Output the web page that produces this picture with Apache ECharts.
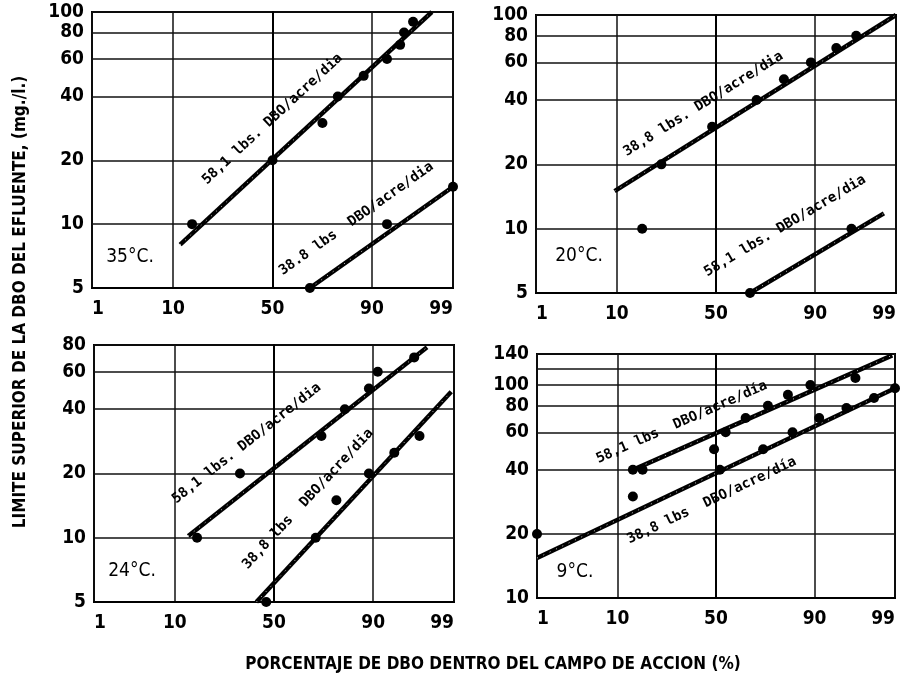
<!DOCTYPE html>
<html>
<head>
<meta charset="utf-8">
<script src="https://cdn.jsdelivr.net/npm/echarts@6/dist/echarts.min.js"></script>
<style>html,body{margin:0;padding:0;background:#fff}#c{width:908px;height:678px}</style>
</head>
<body>
<div id="c"></div>
<script>
// ---------- DATA ----------
const xTickLabels = [1, 10, 50, 90, 99];
const xGridValues = [1, 10, 50, 90, 99];

const yTicks35 = [5, 10, 20, 40, 60, 80, 100];
const yTicks20 = [5, 10, 20, 40, 60, 80, 100];
const yTicks24 = [5, 10, 20, 40, 60, 80];
const yTicks9 = [10, 20, 40, 60, 80, 100, 140];
const yGrid9 = [10, 20, 40, 60, 80, 100, 120, 140];

// 35 °C
const p35_581_points = [[15, 10], [50, 20], [74, 30], [80, 40], [88, 50], [93, 60], [95, 70], [95.5, 80], [96.5, 90]];
const p35_581_line = [[11.7, 8], [98, 100]];
const p35_388_points = [[68.5, 5], [93, 10], [99, 15]];
const p35_388_line = [[68.5, 5], [99, 15]];

// 20 °C
const p20_388_points = [[17, 10], [24, 20], [48, 30], [70, 40], [81, 50], [89, 60], [94, 70], [96.5, 80]];
const p20_388_line = [[9.5, 15], [99, 100]];
const p20_581_points = [[67, 5], [96, 10]];
const p20_581_line = [[67, 5], [98.5, 11.8]];

// 24 °C
const p24_581_points = [[16, 10], [33, 20], [73, 30], [82, 40], [89, 50], [91, 60], [96.5, 70]];
const p24_581_line = [[13.4, 10.2], [97.6, 78]];
const p24_388_points = [[46, 5], [70.5, 10], [79, 15], [89, 20], [94, 25], [97, 30]];
const p24_388_line = [[41, 5], [98.9, 48.3]];

// 9 °C
const p9_581_points = [[14, 40], [17, 40], [49, 50], [55, 60], [65, 70], [75, 80], [82.5, 90], [89, 100], [96.5, 108]];
const p9_581_line = [[14, 40], [98.9, 138]];
const p9_388_points = [[1, 20], [14, 30], [52, 40], [73, 50], [84, 60], [91, 70], [95.5, 78], [98, 87], [99, 96.6]];
const p9_388_line = [[1, 15.4], [99, 96.6]];

const panelTitles = ['35°C.', '20°C.', '24°C.', '9°C.'];
const yTitle = 'LIMITE SUPERIOR DE LA DBO DEL EFLUENTE, (mg./l.)';
const xTitle = 'PORCENTAJE DE DBO DENTRO DEL CAMPO DE ACCION (%)';

// ---------- LAYOUT ----------
const grids = [
  {left: 92, top: 12, width: 361, height: 276},
  {left: 536, top: 15, width: 360, height: 278},
  {left: 94, top: 345, width: 360, height: 257},
  {left: 537, top: 354, width: 358, height: 244}
];
const panelTitlePos = [[130, 257], [579, 256], [132, 571], [575, 572]];
// line labels: [panel, line, anchor(pct,val), text]
const lineLabels = [
  [0, p35_581_line, [50, 31.3], '58,1 lbs. DBO/acre/dia'],
  [0, p35_388_line, [86, 10.6], '38.8 lbs  DBO/acre/dia'],
  [1, p20_388_line, [43.5, 38.3], '38,8 lbs. DBO/acre/dia'],
  [1, p20_581_line, [81.4, 10.3], '58,1 lbs. DBO/acre/dia'],
  [2, p24_581_line, [36.2, 27.7], '58,1 lbs. DBO/acre/dia'],
  [2, p24_388_line, [67, 15.2], '38,8 lbs  DBO/acre/dia'],
  [3, p9_581_line, [32.8, 66.9], '58,1 lbs  DBO/acre/día'],
  [3, p9_388_line, [47.8, 28.7], '38,8 lbs  DBO/acre/día']
];

// ---------- SCALES ----------
function probit(p) {
  const a=[-3.969683028665376e+01,2.209460984245205e+02,-2.759285104469687e+02,1.383577518672690e+02,-3.066479806614716e+01,2.506628277459239e+00];
  const b=[-5.447609879822406e+01,1.615858368580409e+02,-1.556989798598866e+02,6.680131188771972e+01,-1.328068155288572e+01];
  const c=[-7.784894002430293e-03,-3.223964580411365e-01,-2.400758277161838e+00,-2.549732539343734e+00,4.374664141464968e+00,2.938163982698783e+00];
  const d=[7.784695709041462e-03,3.224671290700398e-01,2.445134137142996e+00,3.754408661907416e+00];
  const pl = 0.02425;
  let q, r;
  if (p < pl) {
    q = Math.sqrt(-2 * Math.log(p));
    return (((((c[0]*q+c[1])*q+c[2])*q+c[3])*q+c[4])*q+c[5])/((((d[0]*q+d[1])*q+d[2])*q+d[3])*q+1);
  }
  if (p > 1 - pl) return -probit(1 - p);
  q = p - 0.5; r = q * q;
  return (((((a[0]*r+a[1])*r+a[2])*r+a[3])*r+a[4])*r+a[5])*q/(((((b[0]*r+b[1])*r+b[2])*r+b[3])*r+b[4])*r+1);
}
const X = pct => probit(pct / 100);
const Y = v => Math.log10(v);
const pt = d => [X(d[0]), Y(d[1])];

const FONT = "'Liberation Sans Narrow','DejaVu Sans Condensed','Roboto Condensed','Liberation Sans',sans-serif";
const LFONT = "'DejaVu Sans Mono','Liberation Mono',monospace";

function xAxisFor(i) {
  const vals = xGridValues.map(X);
  return {
    type: 'value', gridIndex: i, min: X(1), max: X(99),
    axisLine: {show: true, lineStyle: {color: '#000', width: 2}},
    axisTick: {show: false, customValues: vals},
    splitLine: {show: true, lineStyle: {color: '#111', width: 1.5}},
    axisLabel: {
      customValues: xTickLabels.map(X), margin: 12,
      color: '#000', fontFamily: FONT, fontWeight: 'bold', fontSize: 19,
      alignMinLabel: 'left', alignMaxLabel: 'right',
      formatter: v => {
        let best = xTickLabels[0], bd = 1e9;
        xTickLabels.forEach(t => { const dd = Math.abs(X(t) - v); if (dd < bd) { bd = dd; best = t; } });
        return String(best);
      }
    }
  };
}
function yAxisFor(i, labels, gridVals) {
  return {
    type: 'value', gridIndex: i, min: Y(gridVals[0]), max: Y(gridVals[gridVals.length - 1]),
    axisLine: {show: true, lineStyle: {color: '#000', width: 2}},
    axisTick: {show: false, customValues: gridVals.map(Y)},
    splitLine: {show: true, lineStyle: {color: '#111', width: 1.5}},
    axisLabel: {
      customValues: labels.map(Y), margin: 8,
      color: '#000', fontFamily: FONT, fontWeight: 'bold', fontSize: 19,
      formatter: v => String(Math.round(Math.pow(10, v)))
    }
  };
}

const series = [];
function addLine(i, line) {
  series.push({type: 'line', xAxisIndex: i, yAxisIndex: i, data: line.map(pt), symbol: 'none',
    lineStyle: {color: '#000', width: 4.5}, z: 3, silent: true, animation: false});
  series.push({type: 'line', xAxisIndex: i, yAxisIndex: i, data: line.map(pt), symbol: 'none',
    lineStyle: {color: '#fff', width: 1, type: [1, 6], opacity: 0.8}, z: 4, silent: true, animation: false});
}
function addPoints(i, pts) {
  series.push({type: 'scatter', xAxisIndex: i, yAxisIndex: i, data: pts.map(pt), symbolSize: 10,
    itemStyle: {color: '#000', opacity: 1}, z: 5, animation: false});
}
addLine(0, p35_581_line); addPoints(0, p35_581_points);
addLine(0, p35_388_line); addPoints(0, p35_388_points);
addLine(1, p20_388_line); addPoints(1, p20_388_points);
addLine(1, p20_581_line); addPoints(1, p20_581_points);
addLine(2, p24_581_line); addPoints(2, p24_581_points);
addLine(2, p24_388_line); addPoints(2, p24_388_points);
addLine(3, p9_581_line); addPoints(3, p9_581_points);
addLine(3, p9_388_line); addPoints(3, p9_388_points);

const chart = echarts.init(document.getElementById('c'), null, {renderer: 'canvas'});
chart.setOption({
  backgroundColor: '#fff',
  animation: false,
  grid: grids.map(g => Object.assign({show: true, borderColor: '#000', borderWidth: 2, backgroundColor: 'transparent'}, g)),
  xAxis: [0, 1, 2, 3].map(xAxisFor),
  yAxis: [
    yAxisFor(0, yTicks35, yTicks35),
    yAxisFor(1, yTicks20, yTicks20),
    yAxisFor(2, yTicks24, yTicks24),
    yAxisFor(3, yTicks9, yGrid9)
  ],
  series: series
});

const graphics = [];
graphics.push({type: 'text', x: 21, y: 302, rotation: Math.PI / 2,
  style: {text: yTitle, font: "bold 17px " + FONT, fill: '#000', align: 'center', verticalAlign: 'middle', textAlign: 'center', textVerticalAlign: 'middle'}});
graphics.push({type: 'text', x: 493, y: 665,
  style: {text: xTitle, font: "bold 17px " + FONT, fill: '#000', align: 'center', verticalAlign: 'middle', textAlign: 'center', textVerticalAlign: 'middle'}});
panelTitles.forEach((t, i) => {
  graphics.push({type: 'text', x: panelTitlePos[i][0], y: panelTitlePos[i][1],
    style: {text: t, font: "19px " + FONT, fill: '#000', align: 'center', verticalAlign: 'middle', textAlign: 'center', textVerticalAlign: 'middle'}});
});
lineLabels.forEach(([gi, line, anchor, text]) => {
  const p1 = chart.convertToPixel({gridIndex: gi}, pt(line[0]));
  const p2 = chart.convertToPixel({gridIndex: gi}, pt(line[1]));
  const a = chart.convertToPixel({gridIndex: gi}, pt(anchor));
  const rot = Math.atan2(p1[1] - p2[1], p2[0] - p1[0]);
  graphics.push({type: 'text', x: a[0], y: a[1], rotation: rot,
    style: {text: text, font: "bold 14px " + LFONT, fill: '#000', align: 'center', verticalAlign: 'middle', textAlign: 'center', textVerticalAlign: 'middle'}});
});
chart.setOption({graphic: graphics});
</script>
</body>
</html>
